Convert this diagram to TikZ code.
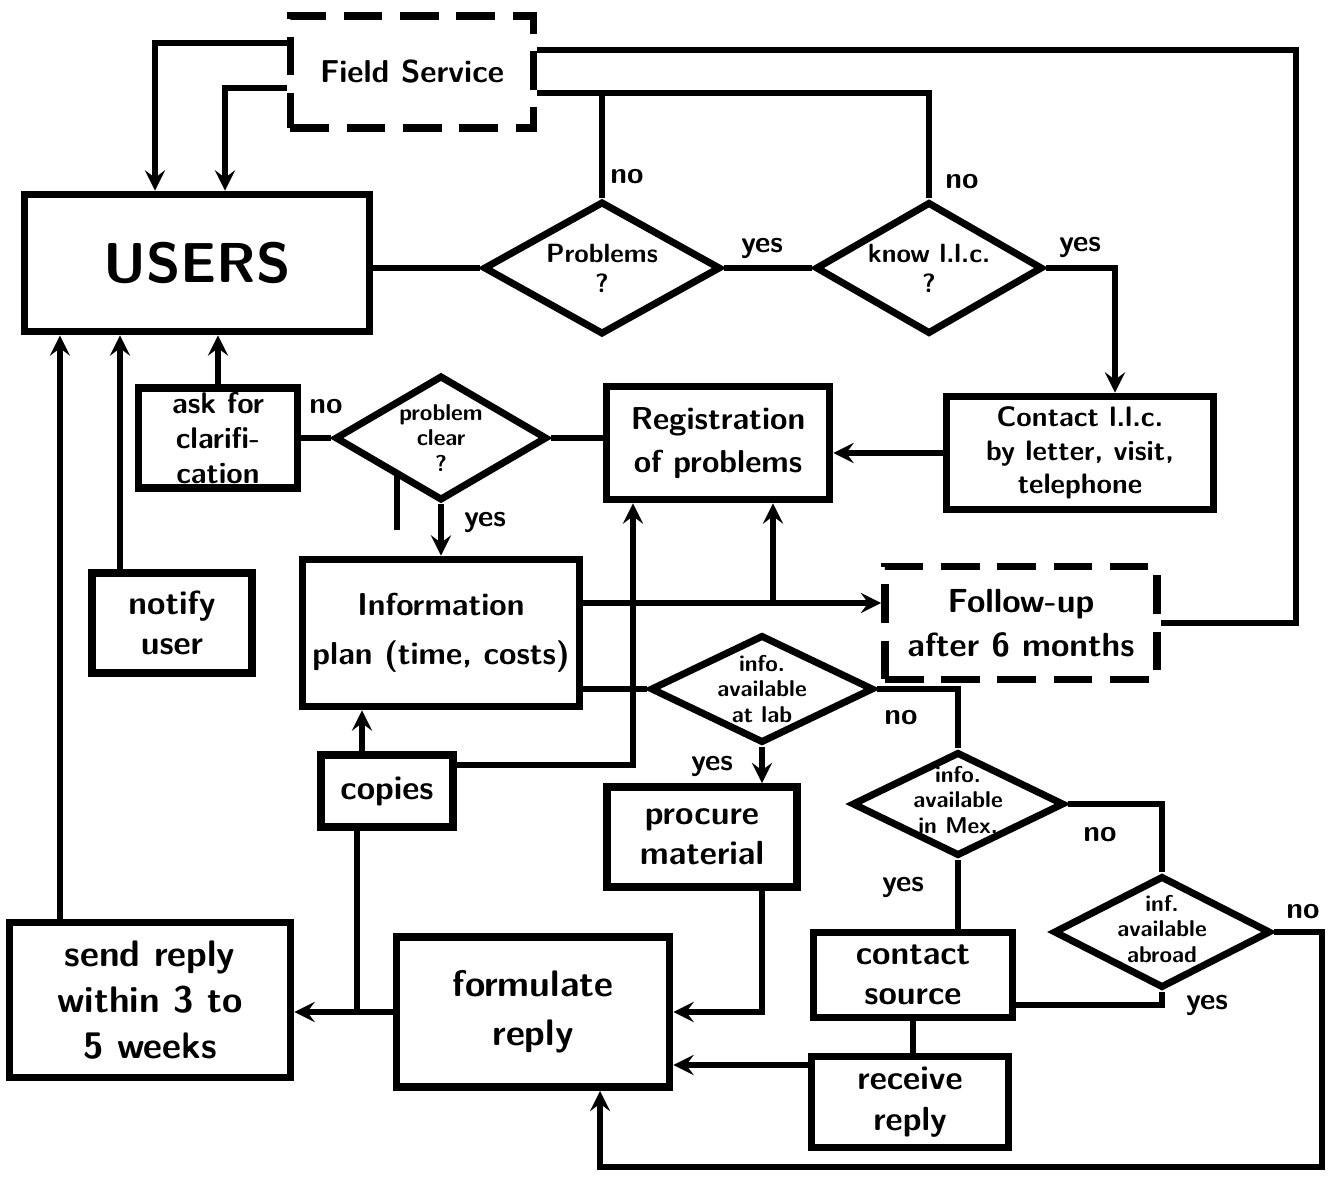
\documentclass[tikz,border=0pt]{standalone}
\usepackage{tikz}
\usetikzlibrary{shapes,arrows,positioning}

\begin{document}
\begin{tikzpicture}[
    x=0.01cm, y=-0.01cm,
    box/.style={rectangle, draw, line width=2.2pt, align=center, inner sep=1pt, font=\sffamily\bfseries\fontsize{8.5}{10}\selectfont},
    bigbox/.style={box, font=\sffamily\bfseries\fontsize{9.5}{11.5}\selectfont},
    dbox/.style={box, dash pattern=on 11pt off 5pt},
    decision/.style={diamond, draw, line width=2pt, inner sep=0pt},
    dtext/.style={align=center, inner sep=0pt, font=\sffamily\bfseries\fontsize{7.5}{8.5}\selectfont},
    stext/.style={dtext, font=\sffamily\bfseries\fontsize{6.5}{7.3}\selectfont},
    link/.style={line width=1.5pt},
    arrow/.style={->, >=stealth, line width=1.5pt},
    lbl/.style={font=\sffamily\bfseries\fontsize{8.5}{10}\selectfont}
]
    \useasboundingbox (0,0) rectangle (1328,1183);

    % Top part
    \node[dbox, minimum width=2.43cm, minimum height=1.12cm, font=\sffamily\bfseries\fontsize{9}{11}\selectfont] (field) at (412,72) {Field Service};
    \node[box, minimum width=3.45cm, minimum height=1.37cm, font=\sffamily\bfseries\fontsize{16}{19}\selectfont] (users) at (197,263) {USERS};
    \node[decision, minimum width=2.37cm, minimum height=1.33cm] (prob) at (602,268) {};
    \node[dtext] (prob-t) at (prob) {Problems\\?};
    \node[decision, minimum width=2.27cm, minimum height=1.32cm] (know) at (929,268) {};
    \node[dtext] (know-t) at (know) {know l.l.c.\\?};

    % Registration row
    \node[box, minimum width=2.67cm, minimum height=1.13cm, font=\sffamily\bfseries\fontsize{8}{9.5}\selectfont] (contact) at (1080,453) {Contact l.l.c.\\by letter, visit,\\telephone};
    \node[box, minimum width=2.23cm, minimum height=1.13cm, font=\sffamily\bfseries\fontsize{9}{12}\selectfont] (reg) at (718,443) {Registration\\of problems};
    \node[decision, minimum width=2.12cm, minimum height=1.25cm] (clear) at (441,438) {};
    \node[stext] (clear-t) at (clear) {problem\\clear\\?};
    \node[box, minimum width=1.59cm, minimum height=1.0cm] (ask) at (218,438) {ask for\\clarifi-\\cation};

    % Middle part
    \node[bigbox, minimum width=1.6cm, minimum height=1.0cm] (notify) at (172,623) {notify\\user};
    \node[box, minimum width=2.77cm, minimum height=1.47cm, font=\sffamily\bfseries\fontsize{9}{14}\selectfont] (info) at (441,633) {Information\\plan (time, costs)};
    \node[dbox, minimum width=2.72cm, minimum height=1.13cm, font=\sffamily\bfseries\fontsize{9.5}{12.5}\selectfont] (followup) at (1021,623) {Follow-up\\after 6 months};
    \node[decision, minimum width=2.23cm, minimum height=1.08cm] (lab) at (762,689) {};
    \node[stext] (lab-t) at (lab) {info.\\available\\at lab};
    \node[bigbox, minimum width=1.32cm, minimum height=0.72cm] (copies) at (387,791) {copies};
    \node[bigbox, minimum width=1.9cm, minimum height=1.0cm] (procure) at (702,837) {procure\\material};
    \node[decision, minimum width=2.12cm, minimum height=1.04cm] (mex) at (958,804) {};
    \node[stext, yshift=0.04cm] (mex-t) at (mex) {info.\\available\\in Mex.};
    \node[decision, minimum width=2.17cm, minimum height=1.12cm] (abroad) at (1162,932) {};
    \node[stext, yshift=0.03cm] (abroad-t) at (abroad) {inf.\\available\\abroad};

    % Bottom part
    \node[bigbox, minimum width=1.99cm, minimum height=0.85cm] (contactsrc) at (913,975) {contact\\source};
    \node[bigbox, minimum width=1.97cm, minimum height=0.91cm] (receive) at (910,1102) {receive\\reply};
    \node[bigbox, minimum width=2.73cm, minimum height=1.5cm, font=\sffamily\bfseries\fontsize{10.5}{14}\selectfont] (formulate) at (533,1012) {formulate\\reply};
    \node[bigbox, minimum width=2.81cm, minimum height=1.55cm, font=\sffamily\bfseries\fontsize{10.5}{13}\selectfont] (send) at (150,1000) {send reply\\within 3 to\\5 weeks};

    % Helper coordinates
    \coordinate (u1) at ([xshift=-0.42cm]users.north);
    \coordinate (u2) at ([xshift=0.28cm]users.north);
    \coordinate (fs) at ([yshift=-0.21cm]field.east);
    \coordinate (llc) at ([xshift=0.35cm]contact.north);
    \coordinate (n1) at ([xshift=-0.52cm]notify.north);
    \coordinate (s1) at ([xshift=-0.9cm]send.north);
    \coordinate (fu) at ([yshift=0.3cm]info.east);
    \coordinate (r1) at ([xshift=-0.85cm]reg.south);
    \coordinate (r2) at ([xshift=0.55cm]reg.south);
    \coordinate (c1) at ([xshift=-0.25cm]copies.north);
    \coordinate (c2) at ([xshift=-0.3cm]copies.south);
    \coordinate (rr) at ([yshift=0.37cm]receive.west);
    \coordinate (fb) at ([xshift=0.67cm]formulate.south);
    \coordinate (loop) at (1322,1167);
    \coordinate (stub) at (397,472);

    % Field Service connections
    \draw[arrow] ([yshift=0.29cm]field.west) -| (u1);
    \draw[arrow] ([yshift=-0.16cm]field.west) -| (u2);
    \draw[link] ([yshift=0.22cm]field.east) -| ([xshift=1.35cm]followup.east) -- (followup.east);
    \draw[link] (know.north) |- (fs);
    \draw[link] (prob.north) -- (prob.north |- fs);

    % Problems
    \draw[link] (prob.west -| users.east) -- (prob.west);
    \draw[link] (prob.east) -- (know.west);
    \draw[arrow] (know.east) -| (llc);
    \draw[arrow] (contact.west) -- (contact.west -| reg.east);
    \draw[link] (clear.east) -- (clear.east -| reg.west);
    \draw[link] (clear.west) -- (clear.west -| ask.east);
    \draw[arrow] (clear.south) -- (clear.south |- info.north);
    \draw[link] (stub) -- ++(0,58);

    % Back to users
    \draw[arrow] (ask.north) -- (ask.north |- users.south);
    \draw[arrow] (n1) -- (n1 |- users.south);
    \draw[arrow] (s1) -- (s1 |- users.south);

    % Information plan
    \draw[arrow] (fu) -- (fu -| followup.west);
    \draw[arrow] (r2 |- fu) -- (r2);
    \draw[link] (lab.west -| info.east) -- (lab.west);
    \draw[arrow] ([yshift=0.26cm]copies.east) -| (r1);
    \draw[arrow] (c1) -- (c1 |- info.south);
    \draw[link] (c2) -- (c2 |- formulate.west);

    % Sources
    \draw[arrow] (lab.south) -- (lab.south |- procure.north);
    \draw[link] (lab.east) -| (mex.north);
    \draw[arrow] (lab.south |- procure.south) |- (formulate.east);
    \draw[link] (mex.east) -| (abroad.north);
    \draw[link] (mex.south) -- (mex.south |- contactsrc.north);
    \draw[link] (abroad.south) |- ([yshift=-0.3cm]contactsrc.east);
    \draw[link] (contactsrc.south) -- (contactsrc.south |- receive.north);
    \draw[arrow] (rr) -- (rr -| formulate.east);
    \draw[arrow] (abroad.east) -| (loop) -| (fb);
    \draw[arrow] (formulate.west) -- (formulate.west -| send.east);

    % Labels
    \node[lbl] (no1) at (627,177) {no};
    \node[lbl] (no2) at (962,182) {no};
    \node[lbl] (yes1) at (762,248) {yes};
    \node[lbl] (yes2) at (1080,247) {yes};
    \node[lbl] (no3) at (326,407) {no};
    \node[lbl] (yes3) at (485,522) {yes};
    \node[lbl] (no4) at (901,718) {no};
    \node[lbl] (yes4) at (712,766) {yes};
    \node[lbl] (no5) at (1100,835) {no};
    \node[lbl] (yes5) at (903,887) {yes};
    \node[lbl] (no6) at (1303,912) {no};
    \node[lbl] (yes6) at (1207,1005) {yes};
\end{tikzpicture}
\end{document}
